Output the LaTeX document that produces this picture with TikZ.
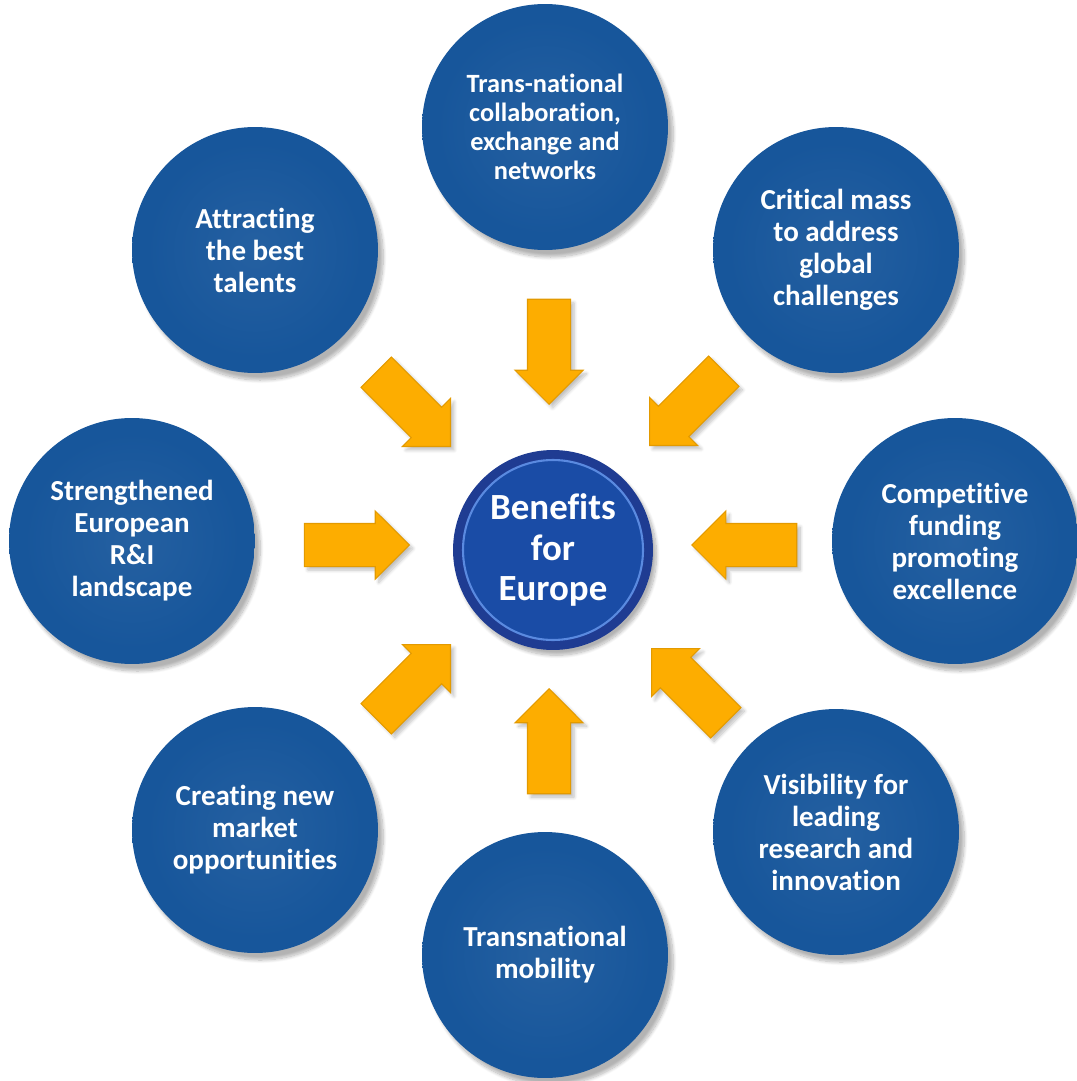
\documentclass[tikz,border=0pt]{standalone}
\usepackage{fontspec}
\setmainfont{Carlito}[Ligatures=NoCommon]
\usetikzlibrary{shapes.arrows,shadows.blur}

\definecolor{discblue}{HTML}{17569B}
\definecolor{discrim}{HTML}{0E4588}
\definecolor{hubrim}{HTML}{1F3C92}
\definecolor{hubfill}{HTML}{1A4CA6}
\definecolor{hubglow}{HTML}{5A8AE0}
\definecolor{arrowfill}{HTML}{FDAD00}
\definecolor{arrowrim}{HTML}{E39A00}

\pgfdeclareradialshading{discshade}{\pgfpoint{0bp}{0bp}}{color(0bp)=(discblue!94!white); color(22bp)=(discblue); color(43bp)=(discblue); color(50bp)=(discrim)}

\tikzset{
    disc/.style={circle, minimum size=4.92cm, inner sep=0pt, shading=discshade,
        text=white, align=center, font=\fontsize{16.5}{18.2}\selectfont\bfseries,
        blur shadow={shadow xshift=3pt, shadow yshift=-4pt, shadow opacity=30, shadow blur steps=12}},
    hub/.style={circle, minimum size=4cm, inner sep=0pt, fill=hubrim,
        text=white, align=center, font=\fontsize{21}{23.2}\selectfont\bfseries,
        path picture={\draw[hubglow, line width=1.2pt, fill=hubfill] (path picture bounding box.center) circle (1.8cm);},
        blur shadow={shadow xshift=2pt, shadow yshift=-3pt, shadow opacity=30, shadow blur steps=10}},
    push/.style={single arrow, minimum width=1.34cm, minimum height=2.1cm,
        single arrow head extend=0.25cm, inner xsep=0pt, inner ysep=0.42cm, anchor=tip,
        fill=arrowfill, draw=arrowrim, line width=0.6pt,
        blur shadow={shadow xshift=2pt, shadow yshift=-2pt, shadow opacity=25, shadow blur steps=8}}
}

\begin{document}
\begin{tikzpicture}[x=0.02cm, y=-0.02cm]
    \useasboundingbox (0,0) rectangle (1077,1081);

    % the eight benefits round the ring
    \node[disc, font=\fontsize{15}{16.4}\selectfont\bfseries] (trans) at (545,127) {Trans-national\\collaboration,\\exchange and\\networks};
    \node[disc] (critical) at (836,250) {Critical mass\\to address\\global\\challenges};
    \node[disc] (competitive) at (955,541) {Competitive\\funding\\promoting\\excellence};
    \node[disc] (visibility) at (836,832) {Visibility for\\leading\\research and\\innovation};
    \node[disc] (mobility) at (545,955) {Transnational\\mobility};
    \node[disc] (market) at (255,830) {Creating new\\market\\opportunities};
    \node[disc] (landscape) at (132,541) {Strengthened\\European\\R\&I\\landscape};
    \node[disc] (talents) at (255,250) {Attracting\\the best\\talents};

    % arrows pointing in
    \node[push, rotate=-90] (toptrans) at (549,405) {};
    \node[push, rotate=-135] (topcritical) at (649,446) {};
    \node[push, rotate=180] (topcompetitive) at (691,545) {};
    \node[push, rotate=135] (topvisibility) at (651,648) {};
    \node[push, rotate=90] (topmobility) at (549,688) {};
    \node[push, rotate=45] (topmarket) at (451,644) {};
    \node[push] (toplandscape) at (410,545) {};
    \node[push, rotate=-45] (toptalents) at (451,447) {};

    % centre
    \node[hub] (benefits) at (553,550) {Benefits\\for\\Europe};
\end{tikzpicture}
\end{document}
